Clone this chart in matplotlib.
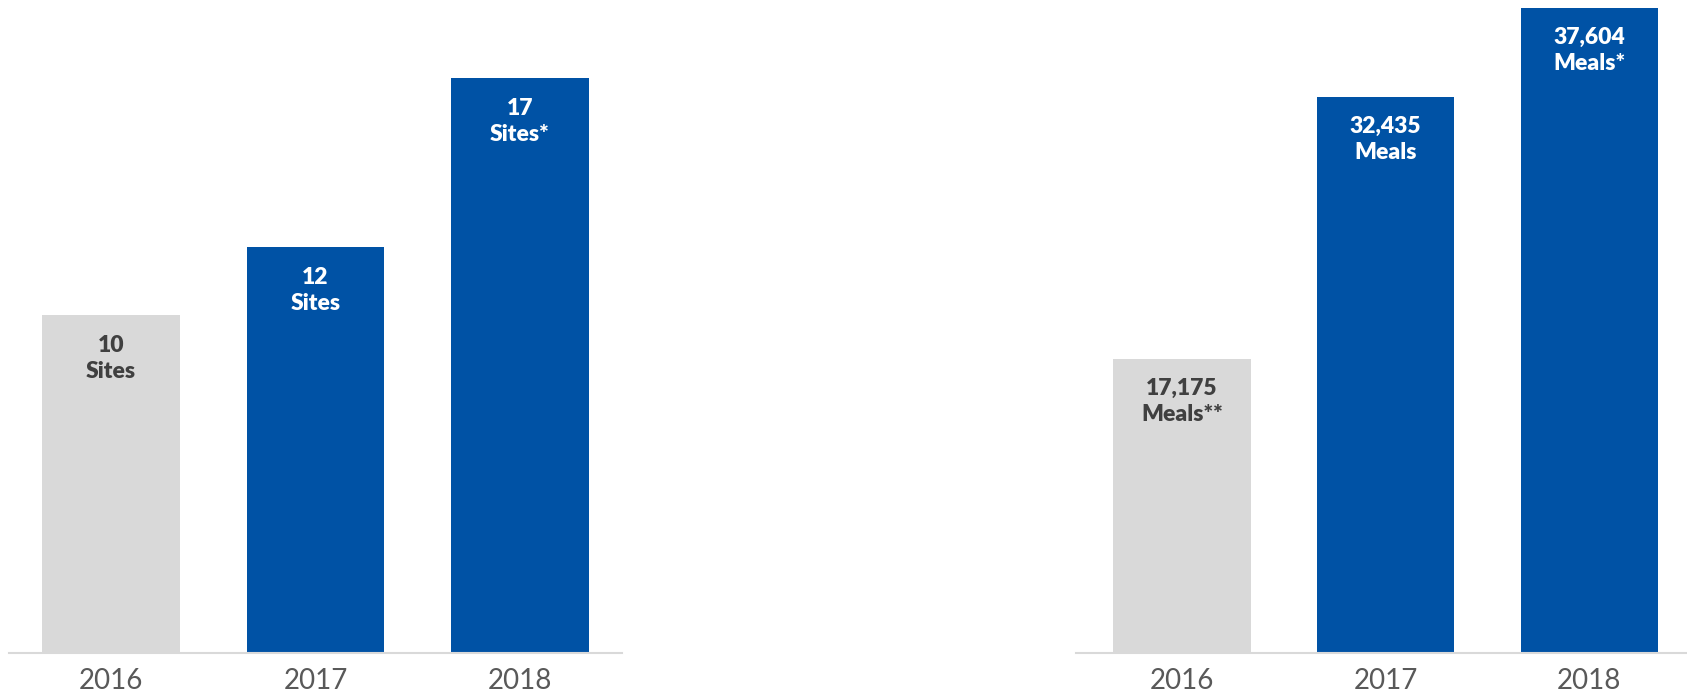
import numpy as np
import matplotlib.pyplot as plt

plt.rcParams['font.family'] = ['Lato', 'DejaVu Sans']

years = ['2016', '2017', '2018']
sites = [10, 12, 17]
site_labels = ['10\nSites', '12\nSites', '17\nSites*']
meals = [17175, 32435, 37604]
meal_labels = ['17,175\nMeals**', '32,435\nMeals', '37,604\nMeals*']

gray = '#D9D9D9'
blue = '#0052A5'
bar_colors = [gray, blue, blue]
text_colors = ['#404040', 'white', 'white']

fig = plt.figure(figsize=(16.87, 6.95), dpi=100)
ax1 = fig.add_axes([9/1687, 42/695, 613/1687, 653/695])
ax2 = fig.add_axes([1076/1687, 42/695, 611/1687, 653/695])


def draw(ax, vals, labels, ytop, off, shift):
    x = np.arange(len(years))
    bars = ax.bar(x, vals, width=0.675, color=bar_colors)
    for b, lab, c in zip(bars, labels, text_colors):
        ax.annotate(lab, (b.get_x() + b.get_width()/2, b.get_height()),
                    xytext=(0, -off), textcoords='offset points',
                    ha='center', va='center', color=c, fontsize=16.5,
                    fontweight='heavy', linespacing=1.3)
    ax.set_xlim(-0.5 - shift, 2.5 - shift)
    ax.set_ylim(0, ytop)
    ax.set_xticks(x)
    ax.set_xticklabels(years, fontsize=20, color='#595959')
    ax.tick_params(axis='x', length=0, pad=11)
    ax.set_yticks([])
    for s in ['top', 'right', 'left']:
        ax.spines[s].set_visible(False)
    ax.spines['bottom'].set_color(gray)
    ax.spines['bottom'].set_linewidth(1.5)
    ax.patch.set_alpha(0)


draw(ax1, sites, site_labels, 653/33.8, 31, 0)
draw(ax2, meals, meal_labels, 653/0.01714, 30.5, 0.02)

plt.savefig('out.png', dpi=100)
